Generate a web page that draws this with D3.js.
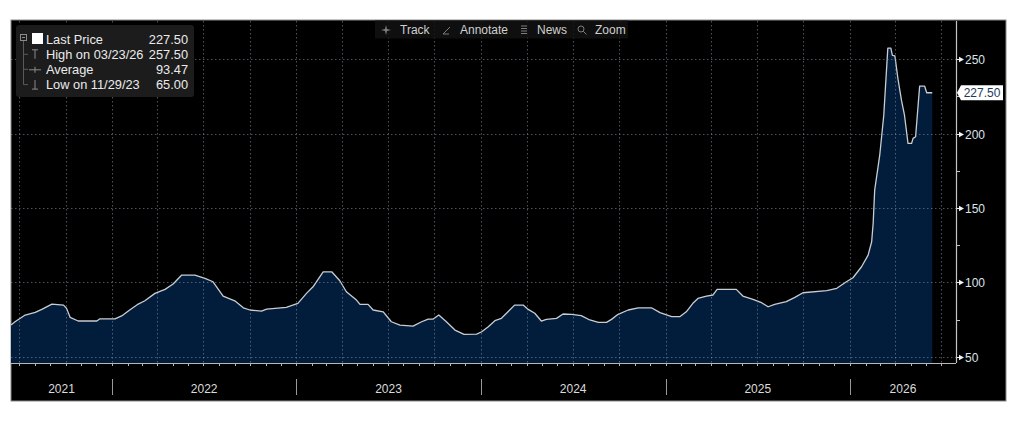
<!DOCTYPE html>
<html>
<head>
<meta charset="utf-8">
<script src="https://cdn.jsdelivr.net/npm/d3@7/dist/d3.min.js"></script>
<style>
  html, body { margin: 0; padding: 0; background: #ffffff; }
  svg { display: block; font-family: "Liberation Sans", Arial, sans-serif; }
</style>
</head>
<body>
<svg id="chart" width="1024" height="427"></svg>
<script>
// ---------- DATA ----------
const dates = [
  "2021-06-15","2021-06-23","2021-07-13","2021-08-02","2021-08-15","2021-09-04","2021-09-27","2021-10-03",
  "2021-10-10","2021-10-26","2021-12-02","2021-12-08","2022-01-07","2022-01-20","2022-02-05","2022-02-22",
  "2022-03-07","2022-03-27","2022-04-16","2022-05-02","2022-05-19","2022-06-14","2022-07-04","2022-07-20",
  "2022-08-09","2022-09-01","2022-09-18","2022-10-01","2022-10-24","2022-11-03","2022-12-12","2023-01-04",
  "2023-01-21","2023-02-03","2023-02-23","2023-03-12","2023-03-28","2023-04-10","2023-04-30","2023-05-07",
  "2023-05-23","2023-06-02","2023-06-22","2023-07-08","2023-07-25","2023-08-20","2023-09-06","2023-09-19",
  "2023-09-29","2023-10-10","2023-10-25","2023-11-11","2023-11-29","2023-12-24","2024-01-03","2024-01-16",
  "2024-01-29","2024-02-11","2024-02-24","2024-03-08","2024-03-25","2024-04-04","2024-04-17","2024-04-30",
  "2024-05-10","2024-05-30","2024-06-12","2024-06-29","2024-07-18","2024-08-04","2024-08-21","2024-09-06",
  "2024-09-16","2024-09-29","2024-10-19","2024-11-08","2024-12-04","2024-12-21","2025-01-13","2025-01-29",
  "2025-02-11","2025-02-24","2025-03-06","2025-03-23","2025-04-05","2025-04-13","2025-05-21","2025-06-03",
  "2025-06-23","2025-07-10","2025-07-23","2025-08-05","2025-08-28","2025-09-14","2025-09-30","2025-11-16",
  "2025-12-06","2025-12-25","2026-01-07","2026-01-24","2026-02-06","2026-02-13","2026-02-16","2026-02-19",
  "2026-03-01","2026-03-09","2026-03-17","2026-03-23","2026-03-26","2026-03-31","2026-04-06","2026-04-13",
  "2026-04-19","2026-04-26","2026-05-03","2026-05-06","2026-05-11","2026-05-19","2026-05-29","2026-06-02",
  "2026-06-13"
];
const prices = [
  71.3, 73.5, 78.0, 79.8, 81.8, 85.4, 84.7, 82.5,
  76.5, 74.0, 74.0, 75.5, 75.5, 77.4, 81.4, 85.4,
  87.6, 92.6, 95.3, 98.9, 104.9, 104.9, 102.7, 100.4,
  90.8, 87.6, 82.9, 81.4, 80.7, 82.0, 83.2, 85.9,
  92.6, 97.0, 107.1, 107.1, 101.1, 93.7, 88.1, 85.2,
  85.2, 81.4, 80.2, 73.5, 71.3, 70.6, 73.5, 75.3,
  75.3, 78.0, 73.5, 67.9, 65.0, 65.2, 66.8, 70.2,
  74.2, 75.8, 80.2, 84.7, 84.7, 81.8, 79.2, 74.0,
  75.1, 75.8, 78.7, 78.5, 77.6, 74.7, 73.1, 73.1,
  75.1, 78.5, 81.4, 82.9, 82.9, 79.6, 76.9, 76.9,
  80.2, 85.9, 89.2, 90.8, 91.5, 95.3, 95.3, 90.8,
  88.6, 86.3, 83.6, 85.2, 87.0, 89.9, 93.0, 94.4,
  96.0, 100.4, 103.1, 110.5, 118.3, 127.3, 139.7, 162.0,
  185.5, 212.4, 257.5, 257.5, 252.7, 252.3, 237.1, 222.5,
  212.4, 193.4, 193.4, 196.8, 197.9, 231.9, 231.9, 227.5,
  227.5
];
const xDomain = ["2021-06-15", "2026-07-30"];
const yearLabels = ["2021", "2022", "2023", "2024", "2025", "2026"];
const yMajorTicks = [50, 100, 150, 200, 250];
const yMinorTicks = [75, 125, 175, 225];
const legendLabels = ["Last Price", "High on 03/23/26", "Average", "Low on 11/29/23"];
const legendValues = ["227.50", "257.50", "93.47", "65.00"];
const lastPrice = 227.50;
const toolbarItems = ["Track", "Annotate", "News", "Zoom"];

// ---------- LAYOUT ----------
const svg = d3.select("#chart");
const panel = { x: 11, y: 20, w: 995, h: 381 };
const plot = { left: 11, right: 956, top: 21, bottom: 363 };
const parse = d3.utcParse("%Y-%m-%d");
const data = dates.map((d, i) => ({ date: parse(d), value: prices[i] }));

const x = d3.scaleUtc().domain(xDomain.map(parse)).range([plot.left, plot.right]);
const y = d3.scaleLinear().domain([50, 250]).range([356.7, 59.3]);

// panel background
svg.append("rect").attr("x", panel.x).attr("y", panel.y)
  .attr("width", panel.w).attr("height", panel.h)
  .attr("fill", "#000").attr("stroke", "#8a8a8a").attr("stroke-width", 1);

// area + line
const clip = svg.append("clipPath").attr("id", "pc").append("rect")
  .attr("x", plot.left).attr("y", plot.top).attr("width", plot.right - plot.left).attr("height", plot.bottom - plot.top);

const g = svg.append("g").attr("clip-path", "url(#pc)");
g.append("path").datum(data)
  .attr("fill", "#021d3b")
  .attr("d", d3.area().x(d => x(d.date)).y0(plot.bottom).y1(d => y(d.value)));
g.append("path").datum(data)
  .attr("fill", "none").attr("stroke", "#c9ccd0").attr("stroke-width", 1.3)
  .attr("stroke-linejoin", "round")
  .attr("d", d3.line().x(d => x(d.date)).y(d => y(d.value)));

// gridlines (dotted), drawn over area
const grid = svg.append("g").attr("stroke", "#8c97a6").attr("stroke-opacity", 0.55)
  .attr("stroke-width", 1).attr("stroke-dasharray", "1.5,2.5");
const quarters = d3.utcMonth.every(3).range(x.domain()[0], x.domain()[1]);
grid.selectAll("line.v").data(quarters).join("line")
  .attr("x1", d => Math.round(x(d)) + 0.5).attr("x2", d => Math.round(x(d)) + 0.5)
  .attr("y1", plot.top).attr("y2", plot.bottom);
grid.selectAll("line.h").data(yMajorTicks).join("line")
  .attr("x1", plot.left).attr("x2", plot.right)
  .attr("y1", d => Math.round(y(d)) + 0.5).attr("y2", d => Math.round(y(d)) + 0.5);

// x axis line + monthly ticks
svg.append("line").attr("x1", plot.left).attr("x2", plot.right)
  .attr("y1", plot.bottom + 0.5).attr("y2", plot.bottom + 0.5)
  .attr("stroke", "#b8b8b8").attr("stroke-width", 1.2);
const months = d3.utcMonth.range(x.domain()[0], x.domain()[1]);
svg.append("g").selectAll("line").data(months).join("line")
  .attr("x1", d => Math.round(x(d)) + 0.5).attr("x2", d => Math.round(x(d)) + 0.5)
  .attr("y1", plot.bottom).attr("y2", plot.bottom + 3)
  .attr("stroke", "#b8b8b8").attr("stroke-width", 1);

// year separators & labels
const years = yearLabels.map(s => parse(s + "-01-01"));
svg.append("g").selectAll("line").data(years.slice(1)).join("line")
  .attr("x1", d => Math.round(x(d)) + 0.5).attr("x2", d => Math.round(x(d)) + 0.5)
  .attr("y1", 379).attr("y2", 395)
  .attr("stroke", "#9a9a9a").attr("stroke-width", 1);
svg.append("g").selectAll("text").data(yearLabels).join("text")
  .attr("x", (s, i) => {
    const a = Math.max(x(years[i]), plot.left);
    const b = Math.min(x(parse((+s + 1) + "-01-01")), plot.right);
    return (a + b) / 2;
  })
  .attr("y", 392.5).attr("text-anchor", "middle")
  .attr("font-size", 12).attr("fill", "#dcdcdc")
  .text(s => s);

// y axis (right)
svg.append("line").attr("x1", plot.right + 0.5).attr("x2", plot.right + 0.5)
  .attr("y1", plot.top).attr("y2", plot.bottom)
  .attr("stroke", "#c4c4c4").attr("stroke-width", 1.2);
svg.append("g").selectAll("line").data(yMinorTicks).join("line")
  .attr("x1", plot.right).attr("x2", plot.right + 4)
  .attr("y1", d => Math.round(y(d)) + 0.5).attr("y2", d => Math.round(y(d)) + 0.5)
  .attr("stroke", "#c4c4c4");
const yt = svg.append("g").selectAll("g").data(yMajorTicks).join("g")
  .attr("transform", d => `translate(${plot.right},${Math.round(y(d)) + 0.5})`);
yt.append("path").attr("d", "M1,-0.6L3,-0.6L3,-2.8L8,0L3,2.8L3,0.6L1,0.6Z").attr("fill", "#f2f2f2");
yt.append("text").attr("x", 9).attr("y", 4.3).attr("font-size", 12).attr("fill", "#dde3ea").text(d => d);

// last price marker
const ly = y(lastPrice);
const lm = svg.append("g").attr("transform", `translate(${plot.right},${ly})`);
lm.append("path").attr("d", "M1,0L5,-7.5L47,-7.5L47,7.5L5,7.5Z").attr("fill", "#ffffff");
lm.append("text").attr("x", 26).attr("y", 4.3).attr("text-anchor", "middle")
  .attr("font-size", 12).attr("fill", "#1b3a5e").text(lastPrice.toFixed(2));

// toolbar
const tb = svg.append("g");
tb.append("rect").attr("x", 375).attr("y", 20.5).attr("width", 253).attr("height", 18)
  .attr("fill", "#121212").attr("fill-opacity", 0.85);
const tbText = [400, 460, 537, 595];
tb.selectAll("text").data(toolbarItems).join("text")
  .attr("x", (d, i) => tbText[i]).attr("y", 34).attr("font-size", 12).attr("fill", "#cfcfcf").text(d => d);
// icons
tb.append("path").attr("d", "M386,25L387,29L391,30L387,31L386,35L385,31L381,30L385,29Z").attr("fill", "#7d7d7d");
tb.append("path").attr("d", "M443,34L450,27M443,34L449,34").attr("stroke", "#7d7d7d").attr("fill", "none");
tb.append("path").attr("d", "M521,26H527M521,28.5H527M521,31H527M521,33.5H527").attr("stroke", "#7d7d7d").attr("fill", "none");
tb.append("circle").attr("cx", 581).attr("cy", 29).attr("r", 3).attr("stroke", "#7d7d7d").attr("fill", "none");
tb.append("path").attr("d", "M583.3,31.3L586.5,34.5").attr("stroke", "#7d7d7d").attr("fill", "none");

// legend
const lg = svg.append("g");
lg.append("rect").attr("x", 16).attr("y", 25).attr("width", 178).attr("height", 72).attr("rx", 3)
  .attr("fill", "#1c1c1c");
const rowY = [39, 54.3, 69.3, 84.6];
lg.selectAll("text.l").data(legendLabels).join("text")
  .attr("x", 46).attr("y", (d, i) => rowY[i] + 4.5).attr("font-size", 12.8).attr("fill", "#ebebeb").text(d => d);
lg.selectAll("text.v").data(legendValues).join("text")
  .attr("x", 188).attr("y", (d, i) => rowY[i] + 4.5).attr("text-anchor", "end")
  .attr("font-size", 12.8).attr("fill", "#ebebeb").text(d => d);
// tree icons
const ic = "#8a8a8a";
lg.append("rect").attr("x", 20.5).attr("y", 34.5).attr("width", 6).attr("height", 6).attr("fill", "none").attr("stroke", ic);
lg.append("line").attr("x1", 22).attr("x2", 25).attr("y1", 37.5).attr("y2", 37.5).attr("stroke", ic);
lg.append("rect").attr("x", 32).attr("y", 33).attr("width", 11).attr("height", 11).attr("fill", "#ffffff");
lg.append("path").attr("d", `M23.5,41V${rowY[3]}H28M23.5,${rowY[1]}H28M23.5,${rowY[2]}H28`)
  .attr("stroke", "#5a5a5a").attr("fill", "none");
// high T
lg.append("path").attr("d", `M32,${rowY[1]-4.5}H38M35,${rowY[1]-4.5}V${rowY[1]+4.5}`).attr("stroke", ic).attr("fill", "none");
// average -+-
lg.append("path").attr("d", `M29,${rowY[2]+0.5}H41M35,${rowY[2]-2.5}V${rowY[2]+3.5}`).attr("stroke", ic).attr("fill", "none");
// low ⊥
lg.append("path").attr("d", `M32,${rowY[3]+4.5}H38M35,${rowY[3]-4.5}V${rowY[3]+4.5}`).attr("stroke", ic).attr("fill", "none");
</script>
</body>
</html>
